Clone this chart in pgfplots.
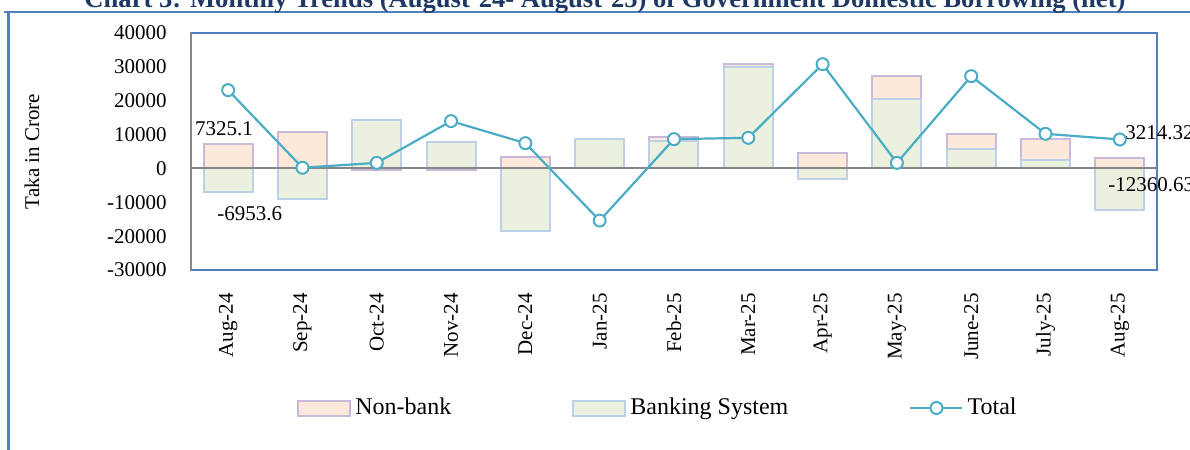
\documentclass[border=0pt]{standalone}
\usepackage{fontspec}
\setmainfont{Liberation Serif}
\usepackage{pgfplots}
\pgfplotsset{compat=1.18}
\definecolor{nbfill}{HTML}{FDE9D9}
\definecolor{nbedge}{HTML}{C8B8DA}
\definecolor{bkfill}{HTML}{EBF1DE}
\definecolor{bkedge}{HTML}{BDD0E8}
\definecolor{totline}{HTML}{4BACC6}
\definecolor{frameblue}{HTML}{4F81BD}
\definecolor{axgray}{HTML}{868686}
\definecolor{titleblue}{HTML}{1F3864}
\pgfplotsset{
  boxleg/.style={legend image code/.code={\draw[##1] (0pt,-3.75pt) rectangle (26pt,3.75pt);}},
  lineleg/.style={legend image code/.code={\draw[##1, mark repeat=2, mark phase=2] plot coordinates {(0pt,0pt) (13pt,0pt) (26pt,0pt)};}},
}
\begin{document}
\begin{tikzpicture}[font=\fontsize{10.5}{12.6}\selectfont]
\useasboundingbox (-95.5pt,-90pt) rectangle (499.5pt,135pt);
\draw[frameblue, line width=1.2pt] (-93.5pt,129pt) -- (520pt,129pt);
\draw[frameblue, line width=1.3pt] (-91.25pt,129.6pt) -- (-91.25pt,-100pt);
\node[anchor=base, inner sep=0pt, font=\fontsize{13.3}{15}\selectfont\bfseries, text=titleblue] at (207pt,131.5pt) {Chart 3: Monthly Trends (August'24- August'25) of Government Domestic Borrowing (net)};
\begin{axis}[
  at={(0,0)}, anchor=south west, scale only axis,
  width=483pt, height=118.5pt,
  xmin=-0.5, xmax=12.5, ymin=-30000, ymax=40000,
  ytick={-30000,-20000,...,40000},
  xtick={0,...,12},
  xticklabels={Aug-24,Sep-24,Oct-24,Nov-24,Dec-24,Jan-25,Feb-25,Mar-25,Apr-25,May-25,June-25,July-25,Aug-25},
  ybar, bar width=24.5pt, bar shift=0pt,
  major tick length=0pt,
  axis line style={frameblue, line width=0.75pt},
  yticklabel style={anchor=east, inner sep=0pt},
  yticklabel shift=12pt,
  xticklabel style={rotate=90, anchor=east, inner sep=0pt},
  xticklabel shift=11.5pt,
  scaled y ticks=false,
  /pgf/number format/.cd, 1000 sep={}, assume math mode=true, /pgfplots/.cd,
  ylabel={Taka in Crore},
  ylabel style={at={([xshift=-79.5pt]axis description cs:0,0.5)}, anchor=center},
  legend columns=3,
  legend style={at={(axis description cs:0,0)}, anchor=west, xshift=50pt, yshift=-69pt,
    draw=none, fill=none, font=\fontsize{12}{14}\selectfont,
    /tikz/every even column/.append style={column sep=58.5pt}},
  clip=false,
]
\addplot[fill=nbfill, draw=nbedge, line width=1pt, boxleg]
  coordinates {(0,7325.1) (1,10630) (2,-400) (3,-400) (4,3250) (5,0) (6,9150) (7,30900) (8,4620) (9,27250) (10,10220) (11,8560) (12,3214.32)};
\addlegendentry{Non-bank}
\addplot[fill=bkfill, draw=bkedge, line width=1pt, boxleg]
  coordinates {(0,-6953.6) (1,-9070) (2,14350) (3,7770) (4,-18420) (5,8750) (6,7970) (7,29830) (8,-3060) (9,20370) (10,5800) (11,2360) (12,-12360.63)};
\addlegendentry{Banking System}
\draw[axgray, line width=1pt] (axis cs:-0.5,0) -- (axis cs:12.5,0);
\draw[axgray, line width=1pt] (rel axis cs:0,0) -- (rel axis cs:0,1);
\addplot[sharp plot, draw=totline, line width=1.1pt, mark=*, mark size=3pt,
  mark options={fill=white, draw=totline, line width=1pt}, lineleg]
  coordinates {(0,23120) (1,200) (2,1650) (3,13970) (4,7470) (5,-15400) (6,8650) (7,9040) (8,30800) (9,1650) (10,27250) (11,10220) (12,8560)};
\addlegendentry{Total}
\node[inner sep=0pt] at (axis cs:-0.056,11600) {7325.1};
\node[inner sep=0pt] at (axis cs:0.29,-13500) {-6953.6};
\node[inner sep=0pt, anchor=west] at (axis cs:12.07,10420) {3214.32};
\node[inner sep=0pt, anchor=west] at (axis cs:11.84,-4900) {-12360.63};
\end{axis}
\end{tikzpicture}
\end{document}
